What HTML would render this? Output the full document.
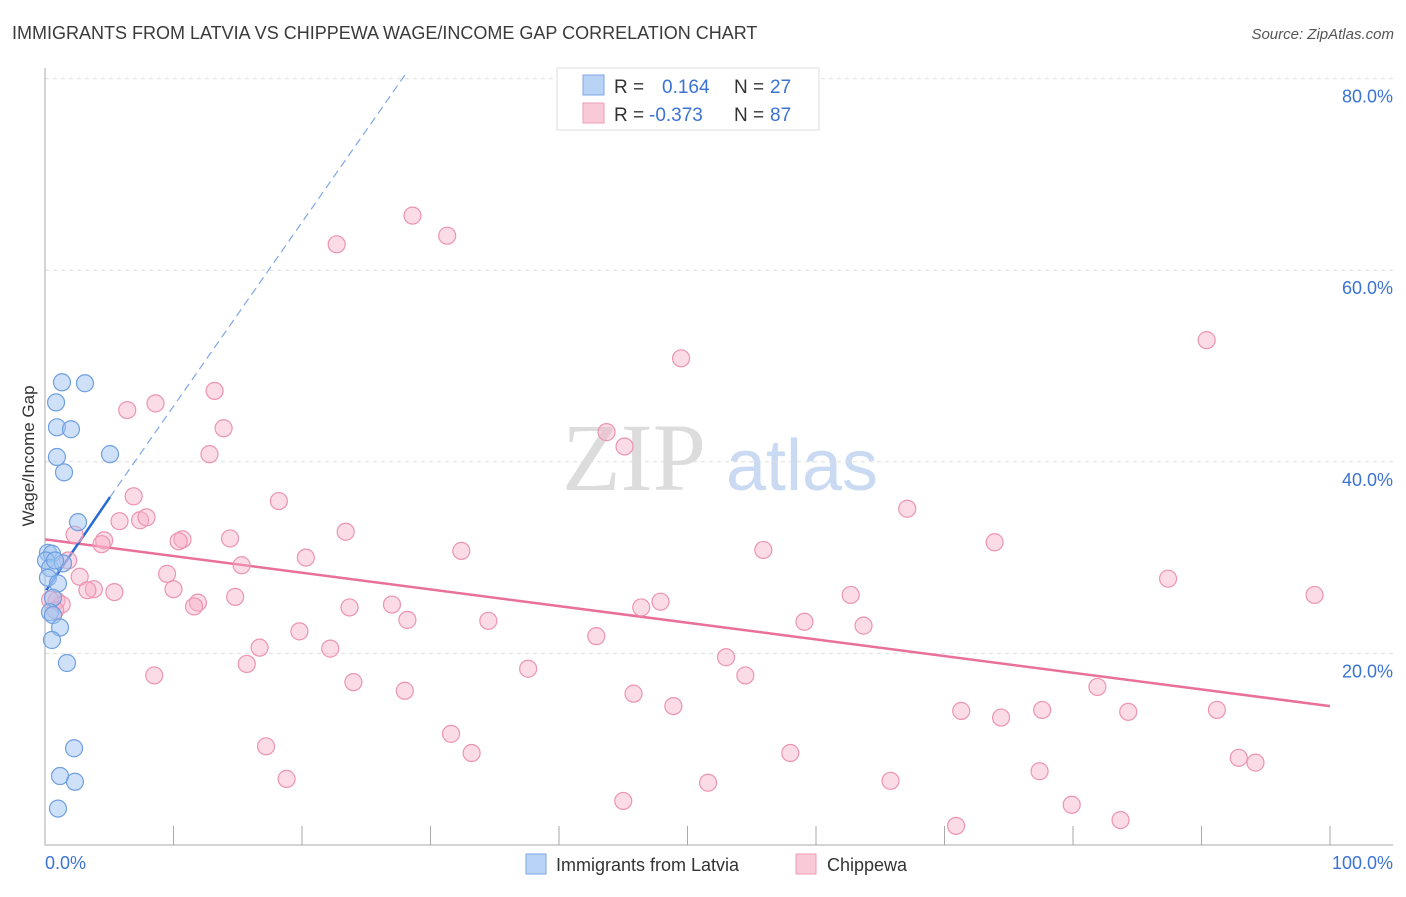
<!DOCTYPE html>
<html><head><meta charset="utf-8">
<style>
body{margin:0;background:#fff;font-family:"Liberation Sans",sans-serif;}
svg text{font-family:"Liberation Sans",sans-serif;}
</style></head>
<body>
<svg id="chart" width="1406" height="892" viewBox="0 0 1406 892" xmlns="http://www.w3.org/2000/svg">
<text x="12" y="39" font-size="18" fill="#3a3a3a">IMMIGRANTS FROM LATVIA VS CHIPPEWA WAGE/INCOME GAP CORRELATION CHART</text>
<text x="1394" y="39" font-size="15" fill="#555" text-anchor="end" font-style="italic">Source: ZipAtlas.com</text>
<g>
<text x="634" y="490" font-size="96" fill="#dcdcdc" text-anchor="middle" font-family="Liberation Serif,serif" style="font-family:'Liberation Serif',serif">ZIP</text>
<text x="802" y="490" font-size="72" fill="#c9daf2" text-anchor="middle">atlas</text>
</g>
<g id="grid"></g>
<g id="axes"></g>
<g id="trend"></g>
<g id="points"></g>
<text transform="translate(34,456) rotate(-90)" font-size="17" fill="#333" text-anchor="middle">Wage/Income Gap</text>
<text x="45" y="869" font-size="18" fill="#3b73d4">0.0%</text>
<text x="1393" y="869" font-size="18" fill="#3b73d4" text-anchor="end">100.0%</text>
<g>
<rect x="557" y="68" width="262" height="62" fill="#fff" stroke="#ddd"/>
<rect x="583" y="75" width="21" height="20" fill="#b9d3f7" stroke="#7ea7e6"/>
<rect x="583" y="103" width="21" height="20" fill="#fac9d7" stroke="#ee9db6"/>
<text x="614" y="93" font-size="19" fill="#333">R =</text>
<text x="662" y="93" font-size="19" fill="#3b73d4">0.164</text>
<text x="734" y="93" font-size="19" fill="#333">N =</text>
<text x="770" y="93" font-size="19" fill="#3b73d4">27</text>
<text x="614" y="121" font-size="19" fill="#333">R =</text>
<text x="649" y="121" font-size="19" fill="#3b73d4">-0.373</text>
<text x="734" y="121" font-size="19" fill="#333">N =</text>
<text x="770" y="121" font-size="19" fill="#3b73d4">87</text>
</g>
<g>
<rect x="526" y="854" width="20" height="20" fill="#b9d3f7" stroke="#7ea7e6"/>
<text x="556" y="871" font-size="18" fill="#333">Immigrants from Latvia</text>
<rect x="796" y="854" width="20" height="20" fill="#fac9d7" stroke="#ee9db6"/>
<text x="827" y="871" font-size="18" fill="#333">Chippewa</text>
</g>
</svg>
<script>
const yTicks=[20,40,60,80];
const yTickLabels=["20.0%","40.0%","60.0%","80.0%"];
const xTicks=[0,10,20,30,40,50,60,70,80,90,100];
const latviaX=[1.32,3.11,0.86,0.93,2.02,0.93,1.48,5.06,2.57,0.23,0.54,0.08,0.39,1.40,0.23,1.01,0.62,0.39,0.62,1.17,0.54,1.71,2.26,1.17,2.33,1.01,0.78];
const latviaY=[48.3,48.2,46.2,43.6,43.4,40.5,38.9,40.8,33.7,30.5,30.4,29.7,28.9,29.4,27.9,27.3,25.8,24.3,24.0,22.7,21.4,19.0,10.1,7.2,6.6,3.8,29.7];
const chipX=[28.6,22.7,31.3,90.4,49.5,13.2,6.4,8.6,13.9,43.7,45.1,12.8,6.9,18.2,67.1,5.8,7.4,7.9,23.4,2.3,10.7,10.4,14.4,4.6,4.4,73.9,55.9,32.4,20.3,1.8,15.3,2.7,9.5,87.4,10.0,3.8,5.4,3.3,62.7,98.8,14.8,11.9,11.6,27.0,23.7,47.9,46.4,0.9,1.3,28.2,34.5,59.1,63.7,19.8,42.9,22.2,16.7,53.0,15.7,37.6,8.5,54.5,24.0,28.0,81.9,45.8,48.9,71.3,91.2,77.6,74.4,84.3,31.6,17.2,33.2,58.0,92.9,94.2,18.8,65.8,51.6,77.4,45.0,79.9,70.9,83.7,0.8,0.4];
const chipY=[65.7,62.7,63.6,52.7,50.8,47.4,45.4,46.1,43.5,43.1,41.6,40.8,36.4,35.9,35.1,33.8,33.9,34.2,32.7,32.4,31.9,31.7,32.0,31.8,31.4,31.6,30.8,30.7,30.0,29.7,29.2,28.0,28.3,27.8,26.7,26.7,26.4,26.6,26.1,26.1,25.9,25.3,24.9,25.1,24.8,25.4,24.8,25.5,25.1,23.5,23.4,23.3,22.9,22.3,21.8,20.5,20.6,19.6,18.9,18.4,17.7,17.7,17.0,16.1,16.5,15.8,14.5,14.0,14.1,14.1,13.3,13.9,11.6,10.3,9.6,9.6,9.1,8.6,6.9,6.7,6.5,7.7,4.6,4.2,2.0,2.6,24.5,25.6];
const latviaTrend=[26.6,1.92]; // intercept, slope
const chipTrend=[31.9,-0.174];
const latviaSolidMax=5.06, latviaDashMax=28;

const NS="http://www.w3.org/2000/svg";
const X=v=>45+v*12.85;
const Y=v=>845-v*9.58;
function mk(tag,attrs,parent){const e=document.createElementNS(NS,tag);for(const k in attrs)e.setAttribute(k,attrs[k]);parent.appendChild(e);return e;}
const grid=document.getElementById('grid'),axes=document.getElementById('axes'),trend=document.getElementById('trend'),pts=document.getElementById('points');
yTicks.forEach((t,i)=>{
  const l=mk('line',{x1:45,x2:1393,y1:Y(t),y2:Y(t),stroke:'#ddd','stroke-dasharray':'4,4'},grid);
  
  
  const tx=mk('text',{x:1393,y:Y(t)+24,'font-size':18,fill:'#3b73d4','text-anchor':'end'},grid);
  tx.textContent=yTickLabels[i];
  
  
});
let a=mk('line',{x1:45,x2:45,y1:68,y2:845,stroke:'#aaa'},axes);


a=mk('line',{x1:45,x2:1393,y1:845,y2:845,stroke:'#aaa'},axes);


xTicks.forEach(t=>{
  const l=mk('line',{x1:X(t),x2:X(t),y1:826,y2:845,stroke:'#aaa'},axes);
  
  
});
function circles(xs,ys,fill,stroke,name){
  xs.forEach((v,i)=>{
    const c=mk('circle',{cx:X(v),cy:Y(ys[i]),r:8.5,fill:fill,stroke:stroke,'stroke-width':1.2},pts);
    
    
  });
}
circles(chipX,chipY,'rgba(246,176,200,0.45)','#ec94b2','chippewa-point');
circles(latviaX,latviaY,'rgba(160,196,242,0.5)','#6f9fe0','latvia-point');
let t=mk('line',{x1:X(0),y1:Y(chipTrend[0]),x2:X(100),y2:Y(chipTrend[0]+chipTrend[1]*100),stroke:'#e8709a','stroke-width':2.5},trend);


t=mk('line',{x1:X(latviaSolidMax),y1:Y(latviaTrend[0]+latviaTrend[1]*latviaSolidMax),x2:X(latviaDashMax),y2:Y(latviaTrend[0]+latviaTrend[1]*latviaDashMax),stroke:'#7ea7e6','stroke-width':1.2,'stroke-dasharray':'8,5'},trend);


t=mk('line',{x1:X(0.1),y1:Y(latviaTrend[0]),x2:X(latviaSolidMax),y2:Y(latviaTrend[0]+latviaTrend[1]*latviaSolidMax),stroke:'#2a6ad6','stroke-width':2.5},trend);


</script>
</body></html>
